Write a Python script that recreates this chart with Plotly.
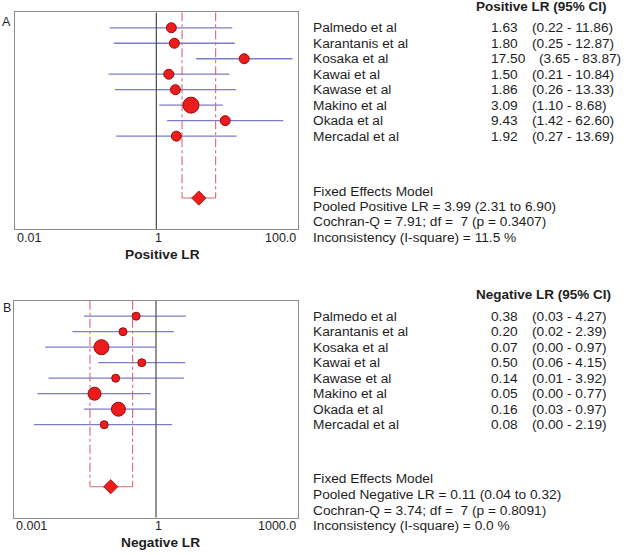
import math
import plotly.graph_objects as go

W, H = 626, 555

studies = ["Palmedo et al", "Karantanis et al", "Kosaka et al", "Kawai et al",
           "Kawase et al", "Makino et al", "Okada et al", "Mercadal et al"]

pos_lr = [1.63, 1.80, 17.50, 1.50, 1.86, 3.09, 9.43, 1.92]
pos_lo = [0.22, 0.25, 3.65, 0.21, 0.26, 1.10, 1.42, 0.27]
pos_hi = [11.86, 12.87, 83.87, 10.84, 13.33, 8.68, 62.60, 13.69]
pos_weight = [10, 10, 10, 10, 10, 16, 10, 10]
pos_pooled = [3.99, 2.31, 6.90]
pos_stats = ["Fixed Effects Model",
             "Pooled Positive LR = 3.99 (2.31 to 6.90)",
             "Cochran-Q = 7.91; df =\u00a0\u00a07 (p = 0.3407)",
             "Inconsistency (I-square) = 11.5 %"]

neg_lr = [0.38, 0.20, 0.07, 0.50, 0.14, 0.05, 0.16, 0.08]
neg_lo = [0.03, 0.017, 0.0045, 0.06, 0.0053, 0.0031, 0.03, 0.0026]
neg_hi = [4.27, 2.39, 0.97, 4.15, 3.92, 0.77, 0.97, 2.19]
neg_weight = [8, 8, 15, 8, 8, 13, 14, 8]
neg_pooled = [0.11, 0.04, 0.32]
neg_stats = ["Fixed Effects Model",
             "Pooled Negative LR = 0.11 (0.04 to 0.32)",
             "Cochran-Q = 3.74; df =\u00a0\u00a07 (p = 0.8091)",
             "Inconsistency (I-square) = 0.0 %"]

pos_ticks = [0.01, 1, 100]
pos_ticklabels = ["0.01", "1", "100.0"]
neg_ticks = [0.001, 1, 1000]
neg_ticklabels = ["0.001", "1", "1000.0"]

FONT = "Liberation Sans, Arial, sans-serif"
TXT = "#1e1e1e"
RED = "#ec1c1c"
DARKRED = "#9a0c0c"
CI_COL = "#7c7cc8"
DASH_COL = "#d2687a"

def px(x):
    return x / W

def py(y):
    return 1 - y / H

fig = go.Figure()
annotations = []

panels = [
    dict(xa="x", ya="y", lr=pos_lr, lo=pos_lo, hi=pos_hi, wt=pos_weight,
         pooled=pos_pooled, stats=pos_stats, ticks=pos_ticks, tl=pos_ticklabels,
         header="Positive LR (95% CI)", title="Positive LR", letter="A",
         xdom=(15, 297.7), ydom=(12.3, 229), rng=[-2, 2],
         header_y=7, stats_y=[191.3, 206.7, 221.9, 237.3], tick_y=237.7,
         title_x=162.5, title_y=255, letter_y=21.7),
    dict(xa="x2", ya="y2", lr=neg_lr, lo=neg_lo, hi=neg_hi, wt=neg_weight,
         pooled=neg_pooled, stats=neg_stats, ticks=neg_ticks, tl=neg_ticklabels,
         header="Negative LR (95% CI)", title="Negative LR", letter="B",
         xdom=(14.3, 297.7), ydom=(300.7, 517.7), rng=[-3, 3],
         header_y=294, stats_y=[478.3, 494.3, 510, 525.5], tick_y=525.7,
         title_x=160.5, title_y=542.7, letter_y=308),
]

rows = list(range(len(studies)))
POOL_ROW = 11

for p in panels:
    xa, ya = p["xa"], p["ya"]
    # CI lines
    lx, ly = [], []
    for i in rows:
        lx += [p["lo"][i], p["hi"][i], None]
        ly += [i, i, None]
    fig.add_trace(go.Scatter(x=lx, y=ly, mode="lines", xaxis=xa, yaxis=ya,
                             line=dict(color=CI_COL, width=1.3),
                             hoverinfo="skip", showlegend=False))
    # pooled CI bracket
    est, plo, phi = p["pooled"]
    fig.add_trace(go.Scatter(x=[plo, plo, None, phi, phi], y=[-1, POOL_ROW, None, -1, POOL_ROW],
                             mode="lines", xaxis=xa, yaxis=ya,
                             line=dict(color=DASH_COL, width=1.1, dash="dashdot"),
                             hoverinfo="skip", showlegend=False))
    fig.add_trace(go.Scatter(x=[plo, phi], y=[POOL_ROW, POOL_ROW], mode="lines",
                             xaxis=xa, yaxis=ya,
                             line=dict(color=DASH_COL, width=1.1),
                             hoverinfo="skip", showlegend=False))
    # reference line at 1
    fig.add_trace(go.Scatter(x=[1, 1], y=[-1, 13], mode="lines", xaxis=xa, yaxis=ya,
                             line=dict(color="#4a4a4a", width=1.2),
                             hoverinfo="skip", showlegend=False))
    # study points
    fig.add_trace(go.Scatter(x=p["lr"], y=rows, mode="markers", xaxis=xa, yaxis=ya,
                             marker=dict(symbol="circle", size=p["wt"], color=RED, opacity=1,
                                         line=dict(color=DARKRED, width=1)),
                             showlegend=False))
    # pooled diamond
    fig.add_trace(go.Scatter(x=[est], y=[POOL_ROW], mode="markers", xaxis=xa, yaxis=ya,
                             marker=dict(symbol="diamond", size=11, color=RED, opacity=1,
                                         line=dict(color=DARKRED, width=0.8)),
                             showlegend=False))

    # study text
    for i in rows:
        annotations.append(dict(text=studies[i], xref="paper", yref=ya, x=px(311), y=i,
                                xanchor="left", yanchor="middle", showarrow=False,
                                font=dict(size=13.7, family=FONT, color=TXT)))
        vs = f"{p['lr'][i]:.2f}"
        annotations.append(dict(text=vs, xref="paper", yref=ya, x=px(488.5), y=i,
                                xanchor="left", yanchor="middle", showarrow=False,
                                font=dict(size=13.7, family=FONT, color=TXT)))
        ci = f"({p['lo'][i]:.2f} - {p['hi'][i]:.2f})"
        annotations.append(dict(text=ci, xref="paper", yref=ya,
                                x=px(530 + (len(vs) - 4) * 7.4), y=i,
                                xanchor="left", yanchor="middle", showarrow=False,
                                font=dict(size=13.7, family=FONT, color=TXT)))
    # header
    annotations.append(dict(text="<b>" + p["header"] + "</b>", xref="paper", yref="paper",
                            x=px(473.5), y=py(p["header_y"]), xanchor="left", yanchor="middle",
                            showarrow=False, font=dict(size=13.5, family=FONT, color=TXT)))
    # stats
    for s, yy in zip(p["stats"], p["stats_y"]):
        annotations.append(dict(text=s, xref="paper", yref="paper", x=px(311), y=py(yy),
                                xanchor="left", yanchor="middle", showarrow=False,
                                font=dict(size=13.7, family=FONT, color=TXT)))
    # tick labels
    anchors = ["left", "center", "right"]
    for tv, tl, an in zip(p["ticks"], p["tl"], anchors):
        annotations.append(dict(text=tl, xref=xa, yref="paper", x=math.log10(tv),
                                y=py(p["tick_y"]), xanchor=an, yanchor="middle",
                                xshift=(2 if an == "center" else 0),
                                showarrow=False, font=dict(size=12.5, family=FONT, color=TXT)))
    # axis title
    annotations.append(dict(text="<b>" + p["title"] + "</b>", xref="paper", yref="paper",
                            x=px(p["title_x"]), y=py(p["title_y"]), xanchor="center",
                            yanchor="middle", showarrow=False,
                            font=dict(size=13.7, family=FONT, color=TXT)))
    # panel letter
    annotations.append(dict(text=p["letter"], xref="paper", yref="paper",
                            x=px(6.5), y=py(p["letter_y"]), xanchor="center",
                            yanchor="middle", showarrow=False,
                            font=dict(size=12.5, family=FONT, color=TXT)))

axis_common = dict(showgrid=False, zeroline=False, showticklabels=False, ticks="",
                   showline=True, mirror=True, linecolor="#8c8c8c", linewidth=1.2)

fig.update_layout(
    width=W, height=H,
    margin=dict(l=0, r=0, t=0, b=0),
    paper_bgcolor="white", plot_bgcolor="white",
    showlegend=False,
    xaxis=dict(type="log", range=panels[0]["rng"],
               domain=[px(panels[0]["xdom"][0]), px(panels[0]["xdom"][1])],
               anchor="y", **axis_common),
    yaxis=dict(range=[13, -1], domain=[py(panels[0]["ydom"][1]), py(panels[0]["ydom"][0])],
               anchor="x", **axis_common),
    xaxis2=dict(type="log", range=panels[1]["rng"],
                domain=[px(panels[1]["xdom"][0]), px(panels[1]["xdom"][1])],
                anchor="y2", **axis_common),
    yaxis2=dict(range=[13, -1], domain=[py(panels[1]["ydom"][1]), py(panels[1]["ydom"][0])],
                anchor="x2", **axis_common),
    annotations=annotations,
)

fig.write_html("out.html")
